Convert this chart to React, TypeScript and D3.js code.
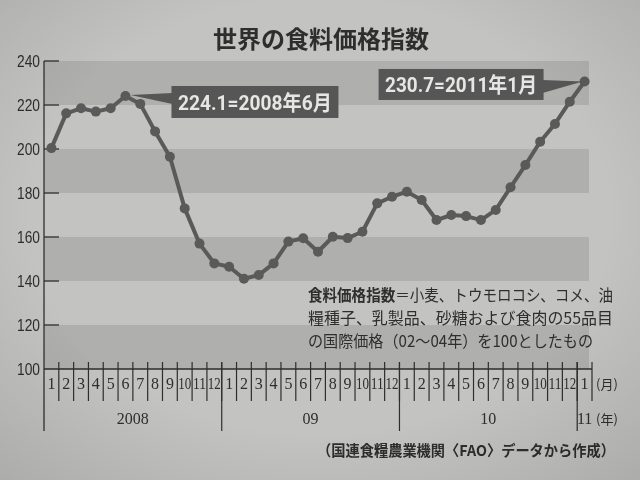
import React from "react";
import * as d3 from "d3";

const title = "世界の食料価格指数";
const years = ["2008", "09", "10", "11"];
const monthsPerYear = [12, 12, 12, 1];
const values2008 = [200.4, 216.2, 218.5, 217.0, 218.5, 224.1, 220.5, 208.0, 196.5, 173.0, 157.0, 148.0];
const values2009 = [146.5, 141.0, 142.7, 148.0, 157.9, 159.4, 153.3, 160.1, 159.5, 162.4, 175.3, 178.3];
const values2010 = [180.6, 176.8, 167.7, 170.0, 169.5, 167.7, 172.3, 182.6, 192.7, 203.3, 211.4, 221.5];
const values2011 = [230.7];
const yTicks = [100, 120, 140, 160, 180, 200, 220, 240];
const peakLabel = "224.1=2008年6月";
const lastLabel = "230.7=2011年1月";
const noteBold = "食料価格指数";
const noteLines = [
  "＝小麦、トウモロコシ、コメ、油",
  "糧種子、乳製品、砂糖および食肉の55品目",
  "の国際価格（02～04年）を100としたもの",
];
const sourceText = "（国連食糧農業機関〈FAO〉データから作成）";
const monthUnit = "(月)";
const yearUnit = "(年)";

type Pt = { key: string; year: number; month: number; value: number };

const allValues = [values2008, values2009, values2010, values2011];
const points: Pt[] = [];
allValues.forEach((arr, yi) =>
  arr.forEach((v, mi) => points.push({ key: `${yi}-${mi + 1}`, year: yi, month: mi + 1, value: v }))
);

export default function App() {
  const W = 640, H = 480;
  const left = 44, right = 592, top = 61, bottom = 369;
  const x = d3.scaleBand<string>().domain(points.map((p) => p.key)).range([left, right]).padding(0);
  const y = d3.scaleLinear().domain([100, 240]).range([bottom, top]);
  const cx = (p: Pt) => (x(p.key) as number) + x.bandwidth() / 2;
  const line = d3.line<Pt>().x(cx).y((p) => y(p.value));

  const bg = "#c3c3c1";
  const dark = "#afafad";
  const ink = "#2e2e2e";
  const lineCol = "#5a5a5a";
  const bandRight = 589;

  const bands = [];
  for (let i = 0; i < yTicks.length - 1; i++) {
    if ((yTicks[i] - 100) % 40 === 0) bands.push([yTicks[i], yTicks[i + 1]]);
  }

  let idx = 0;
  const yearSpans = years.map((yr, yi) => {
    const startKey = points[idx].key;
    const endKey = points[idx + monthsPerYear[yi] - 1].key;
    idx += monthsPerYear[yi];
    const x0 = x(startKey) as number;
    const x1 = (x(endKey) as number) + x.bandwidth();
    return { yr, x0, x1 };
  });

  const peak = points[5];
  const last = points[points.length - 1];
  const px = cx(peak), py = y(peak.value);
  const lx = cx(last), ly = y(last.value);

  const b1 = { x: px + 46, y: py - 10, w: 167, h: 32 };
  const b2 = { x: lx - 206, y: ly - 12.5, w: 165, h: 31 };

  return (
    <svg width={W} height={H} style={{ position: "fixed", left: 0, top: 0 }}>
      <defs>
        <filter id="soft" x="-5%" y="-5%" width="110%" height="110%">
          <feGaussianBlur stdDeviation="0.5" />
        </filter>
        <radialGradient id="vig" cx="50%" cy="45%" r="75%">
          <stop offset="60%" stopColor="#000" stopOpacity="0" />
          <stop offset="100%" stopColor="#000" stopOpacity="0.12" />
        </radialGradient>
      </defs>
      <rect width={W} height={H} fill={bg} />
      <g filter="url(#soft)">
        {bands.map(([a, b]) => (
          <rect key={a} x={left} y={y(b)} width={bandRight - left} height={y(a) - y(b)} fill={dark} />
        ))}
        <text x={321} y={48} textAnchor="middle" fontFamily="'Noto Sans CJK JP'" fontWeight="bold" fontSize={24} fill={ink}>
          {title}
        </text>
        {/* y axis */}
        <line x1={left} x2={left} y1={top} y2={431} stroke={ink} strokeWidth={1.3} />
        {yTicks.map((t) => (
          <g key={t}>
            {t > 100 && <line x1={left} x2={left + 15} y1={y(t)} y2={y(t)} stroke={ink} strokeWidth={1.3} />}
            <text x={40} y={y(t) + 6} textAnchor="end" fontFamily="'Liberation Sans'" fontSize={17} fill={ink} textLength={23} lengthAdjust="spacingAndGlyphs">
              {t}
            </text>
          </g>
        ))}
        {/* x axis */}
        <line x1={left} x2={right} y1={bottom} y2={bottom} stroke={ink} strokeWidth={1.3} />
        {points.map((p) => {
          const bx = (x(p.key) as number) + x.bandwidth();
          return (
            <g key={p.key}>
              <line x1={bx} x2={bx} y1={bottom - 7} y2={401} stroke={ink} strokeWidth={1.2} />
              <text
                x={cx(p)}
                y={389}
                textAnchor="middle"
                fontFamily="'Liberation Serif'"
                fontSize={16}
                fill={ink}
                {...(p.month >= 10 ? { textLength: 13, lengthAdjust: "spacingAndGlyphs" } : {})}
              >
                {p.month}
              </text>
            </g>
          );
        })}
        {yearSpans.map((s, i) => (
          <g key={s.yr}>
            {i > 0 && <line x1={s.x0} x2={s.x0} y1={bottom - 7} y2={431} stroke={ink} strokeWidth={1.2} />}
            <text x={(s.x0 + s.x1) / 2} y={424} textAnchor="middle" fontFamily="'Liberation Serif'" fontSize={16} fill={ink}>
              {s.yr}
            </text>
          </g>
        ))}
        <text x={596} y={389} fontFamily="'Noto Sans CJK JP'" fontSize={13} fill={ink}>{monthUnit}</text>
        <text x={596} y={424} fontFamily="'Noto Sans CJK JP'" fontSize={13} fill={ink}>{yearUnit}</text>

        {/* data line */}
        <path d={line(points) || ""} fill="none" stroke={lineCol} strokeWidth={4} strokeLinejoin="round" />
        {points.map((p) => (
          <circle key={p.key} cx={cx(p)} cy={y(p.value)} r={5} fill={lineCol} />
        ))}

        {/* annotations */}
        <path d={`M${px + 5},${py - 1} L${b1.x + 1},${py - 3} L${b1.x + 1},${py + 8} Z`} fill="#575757" />
        <rect x={b1.x} y={b1.y} width={b1.w} height={b1.h} fill="#575757" />
        <text x={b1.x + b1.w / 2} y={b1.y + 24} textAnchor="middle" fontFamily="Roboto, 'Noto Sans CJK JP'" fontWeight="bold" fontSize={21} fill="#e6e6e4" textLength={154} lengthAdjust="spacingAndGlyphs">
          {peakLabel}
        </text>
        <path d={`M${lx - 2},${ly} L${b2.x + b2.w - 1},${ly - 1.5} L${b2.x + b2.w - 1},${ly + 11.5} Z`} fill="#575757" />
        <rect x={b2.x} y={b2.y} width={b2.w} height={b2.h} fill="#575757" />
        <text x={b2.x + b2.w / 2} y={b2.y + 23.5} textAnchor="middle" fontFamily="Roboto, 'Noto Sans CJK JP'" fontWeight="bold" fontSize={21} fill="#e6e6e4" textLength={152} lengthAdjust="spacingAndGlyphs">
          {lastLabel}
        </text>

        {/* note */}
        <text x={308} y={301} fontFamily="'Noto Sans CJK JP'" fontSize={16} fill={ink} textLength={305} lengthAdjust="spacingAndGlyphs">
          <tspan fontWeight="bold">{noteBold}</tspan>
          <tspan>{noteLines[0]}</tspan>
        </text>
        <text x={308} y={324} fontFamily="'Noto Sans CJK JP'" fontSize={16} fill={ink} textLength={305} lengthAdjust="spacingAndGlyphs">
          {noteLines[1]}
        </text>
        <text x={308} y={347} fontFamily="'Noto Sans CJK JP'" fontSize={16} fill={ink} textLength={285} lengthAdjust="spacingAndGlyphs">
          {noteLines[2]}
        </text>
        <text x={317} y={456} fontFamily="'Noto Sans CJK JP'" fontWeight="bold" fontSize={15} fill={ink} textLength={298} lengthAdjust="spacingAndGlyphs">
          {sourceText}
        </text>
      </g>
      <rect width={W} height={H} fill="url(#vig)" />
    </svg>
  );
}
